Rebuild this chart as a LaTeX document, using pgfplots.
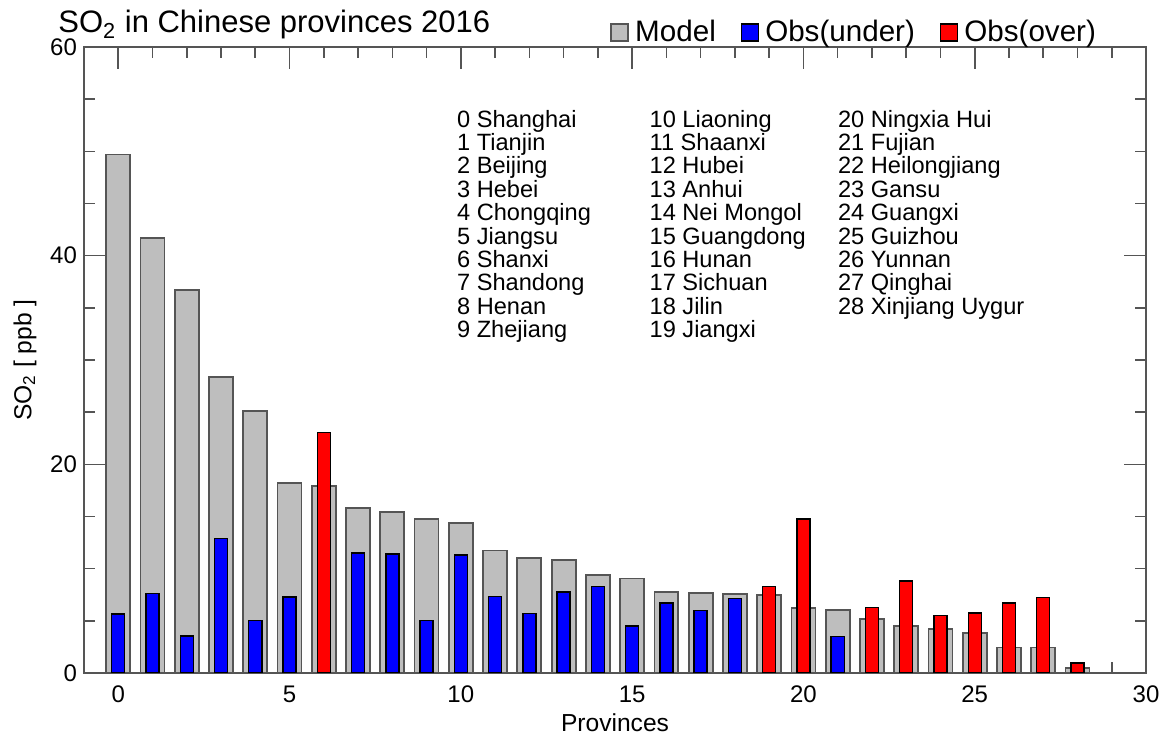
\documentclass[border=0pt]{standalone}
\usepackage{fontspec}
\setmainfont{Liberation Sans}
\usepackage{pgfplots}
\pgfplotsset{compat=1.18}
\definecolor{modelgray}{RGB}{190,190,190}
\definecolor{edgegray}{RGB}{85,85,85}
\begin{document}
\begin{tikzpicture}
\begin{axis}[
  width=531pt, height=313pt, scale only axis,
  xmin=-1, xmax=30, ymin=0, ymax=60,
  xtick={0,5,...,30}, minor x tick num=4,
  ytick={0,20,40,60}, minor y tick num=3,
  xtick pos=both, ytick pos=both,
  xticklabel pos=bottom, yticklabel pos=left,
  tick align=inside,
  major tick length=11pt, minor tick length=5.5pt,
  axis line style={edgegray, line width=0.9pt},
  tick style={edgegray, line width=0.8pt},
  every tick label/.append style={font=\fontsize{12}{14}\selectfont},
  xticklabel style={yshift=-3pt},
  /pgf/number format/assume math mode=true,
  xlabel={Provinces}, ylabel={SO\textsubscript{2} [ ppb ]},
  label style={font=\fontsize{12.3}{14}\selectfont},
  xlabel style={yshift=1.5pt},
  legend columns=3,
  legend style={at={(rel axis cs:0.957,1.0)}, anchor=south east, draw=none, fill=none,
    font=\fontsize{14.8}{17}\selectfont, inner sep=0pt, yshift=-1pt,
    /tikz/every even column/.append style={column sep=10.5pt}},
  legend image code/.code={\draw[#1] (0pt,-4.3pt) rectangle (8.5pt,4.2pt);\path (9.5pt,0pt);},
]
\addplot[ybar, bar width=0.7, bar shift=0pt, fill=modelgray, draw=edgegray, line width=0.9pt]
coordinates {(0,49.7) (1,41.7) (2,36.7) (3,28.4) (4,25.1) (5,18.2) (6,17.9) (7,15.8) (8,15.45) (9,14.75)
 (10,14.4) (11,11.75) (12,11.0) (13,10.8) (14,9.4) (15,9.05) (16,7.75) (17,7.7) (18,7.6) (19,7.45)
 (20,6.2) (21,6.05) (22,5.2) (23,4.5) (24,4.25) (25,3.85) (26,2.45) (27,2.45) (28,0.5)};
\addlegendentry{Model}
\addplot[ybar, bar width=0.38, bar shift=0pt, fill=blue, draw=black, line width=0.7pt]
coordinates {(0,5.65) (1,7.6) (2,3.55) (3,12.9) (4,5.05) (5,7.3) (7,11.5) (8,11.4) (9,5.05)
 (10,11.3) (11,7.35) (12,5.7) (13,7.75) (14,8.3) (15,4.5) (16,6.7) (17,6.0) (18,7.15) (21,3.5)};
\addlegendentry{Obs(under)}
\addplot[ybar, bar width=0.38, bar shift=0pt, fill=red, draw=black, line width=0.7pt]
coordinates {(6,23.05) (19,8.3) (20,14.75) (22,6.25) (23,8.8) (24,5.5) (25,5.75) (26,6.7) (27,7.25) (28,0.95)};
\addlegendentry{Obs(over)}
\node[anchor=north west, align=left, font=\fontsize{11.8}{11.7}\selectfont, inner sep=0pt] at (axis cs:9.88,54.0)
 {0 Shanghai\\1 Tianjin\\2 Beijing\\3 Hebei\\4 Chongqing\\5 Jiangsu\\6 Shanxi\\7 Shandong\\8 Henan\\9 Zhejiang};
\node[anchor=north west, align=left, font=\fontsize{11.8}{11.7}\selectfont, inner sep=0pt] at (axis cs:15.5,54.0)
 {10 Liaoning\\11 Shaanxi\\12 Hubei\\13 Anhui\\14 Nei Mongol\\15 Guangdong\\16 Hunan\\17 Sichuan\\18 Jilin\\19 Jiangxi};
\node[anchor=north west, align=left, font=\fontsize{11.8}{11.7}\selectfont, inner sep=0pt] at (axis cs:21.0,54.0)
 {20 Ningxia Hui\\21 Fujian\\22 Heilongjiang\\23 Gansu\\24 Guangxi\\25 Guizhou\\26 Yunnan\\27 Qinghai\\28 Xinjiang Uygur};
\end{axis}
\node[anchor=base west, font=\fontsize{15.5}{18}\selectfont, inner sep=0pt] at ([xshift=-13pt,yshift=7pt]current axis.north west) {SO\textsubscript{2} in Chinese provinces 2016};
\pgfresetboundingbox
\path[use as bounding box] ([xshift=-42pt,yshift=-33.5pt]current axis.south west) rectangle ([xshift=11pt,yshift=23.5pt]current axis.north east);
\end{tikzpicture}
\end{document}
